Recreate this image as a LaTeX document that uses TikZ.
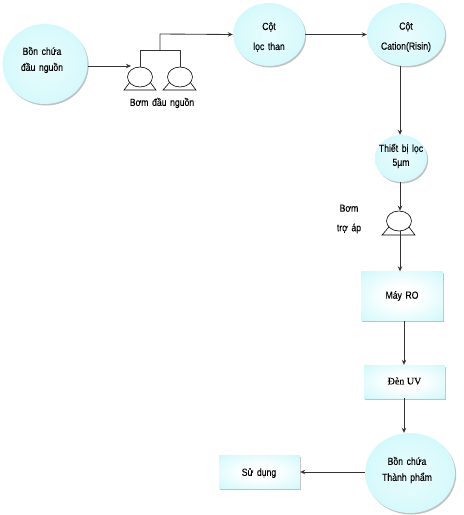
\documentclass[tikz,border=0pt]{standalone}
\usepackage{fontspec}
\setmainfont[FakeStretch=0.84,WordSpace=1.5,FakeBold=0.15]{Liberation Sans}
\newfontfamily\serifface[FakeBold=0.15]{Liberation Serif}
\usetikzlibrary{shapes.geometric,shadows,arrows.meta}
\definecolor{tankedge}{RGB}{176,243,248}
\definecolor{tankmid}{RGB}{218,250,252}
\pgfdeclareradialshading{tankshade}{\pgfpoint{0bp}{0bp}}{%
  color(0bp)=(tankmid!60!white);color(20bp)=(tankmid);color(50bp)=(tankedge)}
\pgfdeclareradialshading{boxshade}{\pgfpoint{0bp}{0bp}}{%
  color(0bp)=(white);color(10bp)=(white);color(30bp)=(tankmid);color(46bp)=(tankedge)}
\tikzset{
  softshadow/.style={drop shadow={shadow xshift=1.2pt,shadow yshift=-1.5pt,fill=black!40,opacity=.6}},
  tank/.style={ellipse,inner sep=0pt,shading=tankshade,softshadow},
  unit/.style={rectangle,inner sep=0pt,shading=boxshade,softshadow},
  lbl/.style={align=center,font=\fontsize{10.3}{16}\selectfont,inner sep=0pt},
  pump/.style={ellipse,draw=black,fill=white,line width=.6pt,minimum width=25pt,minimum height=20pt,inner sep=0pt},
  pipe/.style={draw=black!80,line width=.85pt},
  flow/.style={pipe,-{Stealth[length=5pt,width=4.5pt]}},
  pumpbase/.style={draw=black,line width=.6pt}
}
\begin{document}
\begin{tikzpicture}[x=1pt,y=-1pt]
\useasboundingbox (0,0) rectangle (464,515);
% tanks
\node[tank,minimum width=85pt,minimum height=80pt] (src) at (45,64) {};
\node[lbl] at (42,60) {Bồn chứa\\đầu nguồn};
\node[tank,minimum width=72pt,minimum height=63pt] (carbon) at (269,34.5) {};
\node[lbl,font=\fontsize{10.3}{20}\selectfont] at (269,37) {Cột\\lọc than};
\node[tank,minimum width=78pt,minimum height=63pt] (cation) at (406,34.5) {};
\node[lbl,font=\fontsize{10.3}{20}\selectfont] at (406,37) {Cột\\Cation(Risin)};
\node[tank,minimum width=52pt,minimum height=47pt] (filter) at (401,158.5) {};
\node[lbl,font=\fontsize{10.3}{14}\selectfont] at (401,156) {Thiết bị lọc\\5µm};
\node[tank,minimum width=90pt,minimum height=80pt] (prod) at (410,473) {};
\node[lbl,font=\fontsize{10.3}{16}\selectfont] at (407,470) {Bồn chứa\\Thành phẩm};
% boxes
\node[unit,minimum width=82pt,minimum height=49pt] (ro) at (402,296) {};
\node[lbl] at (ro) {Máy RO};
\node[unit,minimum width=81pt,minimum height=33pt] (uv) at (404.5,381.5) {};
\node[lbl,font=\fontsize{10}{11}\selectfont\serifface] at (404.5,381) {Đèn UV};
\node[unit,minimum width=81pt,minimum height=33pt] (use) at (259.5,472) {};
\node[lbl] at (259,473) {Sử dụng};
% pumps
\coordinate (b1l) at (124,90); \coordinate (b1r) at (156,90);
\coordinate (b2l) at (163,90); \coordinate (b2r) at (196,90);
\coordinate (b3l) at (382,235); \coordinate (b3r) at (415,235);
\draw[pumpbase] (b1l) -- (b1r) -- (150,82) -- (130,82) -- cycle;
\draw[pumpbase] (b2l) -- (b2r) -- (190,82) -- (170,82) -- cycle;
\draw[pumpbase] (b3l) -- (b3r) -- (409,227) -- (389,227) -- cycle;
\node[pump] (p1) at (140,77) {};
\node[pump] (p2) at (180,77) {};
\node[pump] (p3) at (399,221) {};
\node[lbl] (plabel) at (162,103) {Bơm đầu nguồn};
\node[lbl,font=\fontsize{10.3}{19.5}\selectfont] (p3label) at (349,219) {Bơm\\trợ áp};
% connectors
\coordinate (j1) at (140,50); \coordinate (j2) at (180,50); \coordinate (jm) at (160,50);
\coordinate (jt) at (160,34);
\draw[pipe] (p1.north) -- (j1) -- (j2) -- (p2.north);
\draw[flow] (jm) -- (jt) -- (carbon.west);
\draw[flow] (src.east |- 0,66) -- (p1.north west |- 0,66);
\draw[flow] (carbon.east) -- (cation.west);
\draw[flow] (cation.south -| 400,0) -- (filter.north -| 400,0);
\draw[flow] (filter.south -| 400,0) -- (p3.north -| 400,0);
\draw[flow] (p3.south -| 400,0) -- (ro.north -| 400,0);
\draw[flow] (ro.south -| 404,0) -- (uv.north -| 404,0);
\draw[flow] (uv.south -| 404,0) -- (prod.north -| 404,0);
\draw[flow] (prod.west |- use.east) -- (use.east);
\end{tikzpicture}
\end{document}
